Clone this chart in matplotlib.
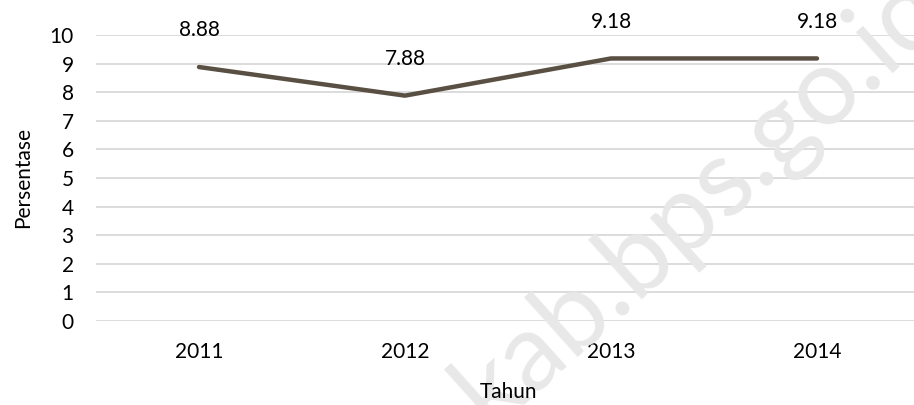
import matplotlib
matplotlib.use('Agg')
import matplotlib.pyplot as plt

# data
years = ['2011', '2012', '2013', '2014']
persen = [8.88, 7.88, 9.18, 9.18]
labels = ['8.88', '7.88', '9.18', '9.18']
yticks = list(range(0, 11))

plt.rcParams['font.family'] = ['Lato', 'DejaVu Sans']
fs = 15

fig = plt.figure(figsize=(9.14, 4.05), dpi=100)
ax = fig.add_axes([96 / 914, 84 / 405, 824 / 914, 286 / 405])

# watermark
fig.text(700 / 914, (405 - 200) / 405, 'kab.bps.go.id', fontsize=78, color='#e8e8e8',
         rotation=42, ha='center', va='center', zorder=0)

x = list(range(len(years)))
ax.plot(x, persen, color='#594f43', linewidth=3.2, solid_capstyle='round',
        solid_joinstyle='round', zorder=3)

for xi, v, s in zip(x, persen, labels):
    ax.annotate(s, (xi, v), xytext=(0, 26.5), textcoords='offset points',
                ha='center', va='center', fontsize=fs, color='#000000')

ax.set_xlim(-0.5, 3.5)
ax.set_ylim(0, 10)
ax.set_yticks(yticks)
ax.set_xticks(x)
ax.set_xticklabels(years)
ax.yaxis.grid(True, color='#d9d9d9', linewidth=1.3)
ax.set_axisbelow(True)
for sp in ax.spines.values():
    sp.set_visible(False)
ax.tick_params(axis='both', length=0, labelsize=fs, colors='#000000')
ax.tick_params(axis='y', pad=16)
ax.tick_params(axis='x', pad=15)
ax.patch.set_alpha(0)

ax.set_ylabel('Persentase', fontsize=fs, labelpad=12)
fig.text(508 / 914, (405 - 392) / 405, 'Tahun', fontsize=fs, ha='center', va='center')

fig.savefig('out.png', dpi=100)
